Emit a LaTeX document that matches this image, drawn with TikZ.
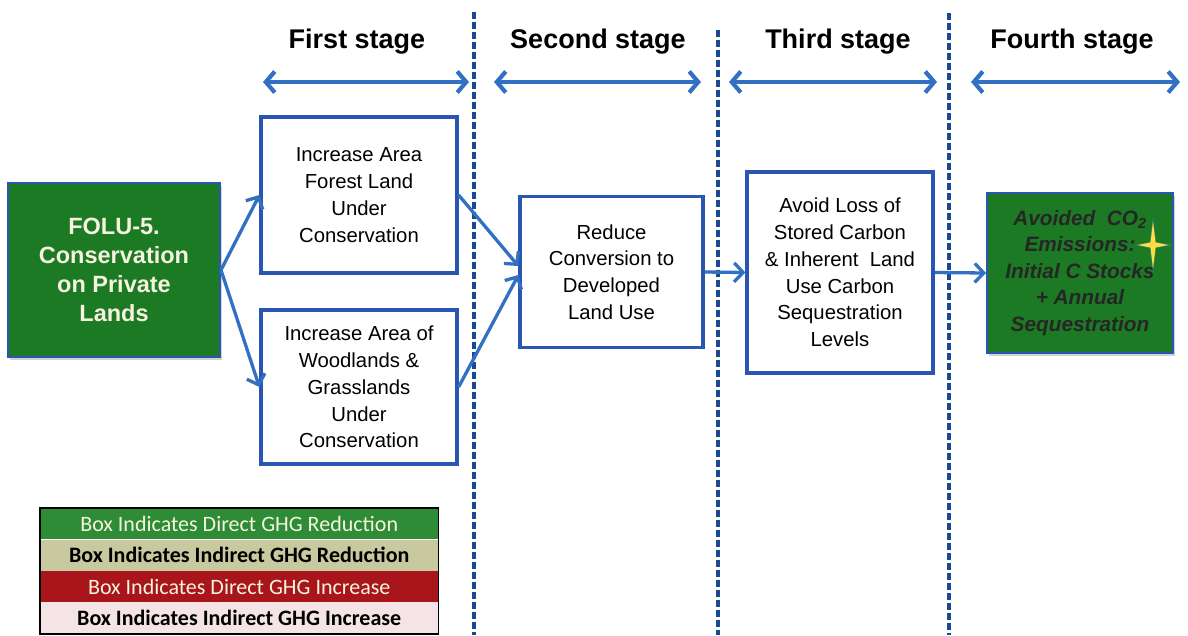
\documentclass[tikz,border=0pt]{standalone}
\usepackage{fontspec}
\setmainfont{Liberation Sans}
\newfontfamily\legendfont{Carlito}
\usetikzlibrary{arrows.meta,calc,shadows}

\definecolor{boxblue}{HTML}{2856B0}
\definecolor{arrowblue}{HTML}{3170C2}
\definecolor{dashblue}{HTML}{1B4896}
\definecolor{deepgreen}{HTML}{1B7A23}
\definecolor{leggreen}{HTML}{2E8B36}
\definecolor{legbeige}{HTML}{C8C99E}
\definecolor{legred}{HTML}{A8161B}
\definecolor{legpink}{HTML}{F4E4E6}
\definecolor{cream}{HTML}{F6F4DE}
\definecolor{staryellow}{HTML}{FFE03A}

\tikzset{
  plainbox/.style={draw=boxblue, line width=3.2pt, fill=white, align=center,
    inner sep=0pt, font=\fontsize{20.3}{26.8}\selectfont},
  greenbox/.style={draw=boxblue, line width=2pt, fill=deepgreen, align=center,
    inner sep=0pt, drop shadow={shadow xshift=2pt, shadow yshift=-3pt, opacity=0.35}},
  flow/.style={arrowblue, line width=3.3pt,
    -{Straight Barb[length=9pt,width=19pt]}},
  stagearrow/.style={arrowblue, line width=4.2pt,
    {Straight Barb[length=9pt,width=21pt]}-{Straight Barb[length=9pt,width=21pt]}},
  divider/.style={dashblue, line width=3.4pt, dash pattern=on 7pt off 3pt},
  stagetitle/.style={anchor=base, font=\bfseries\fontsize{27}{30}\selectfont},
  legendrow/.style={minimum width=398pt, minimum height=31pt, inner sep=0pt,
    font=\legendfont\fontsize{22}{24}\selectfont}
}

\begin{document}
\begin{tikzpicture}[x=1pt,y=-1pt]
\useasboundingbox (0,0) rectangle (1188,635);

% stage dividers
\coordinate (d1t) at (474,12);  \coordinate (d1b) at (474,635);
\coordinate (d2t) at (718,30);  \coordinate (d2b) at (718,635);
\coordinate (d3t) at (949,13);  \coordinate (d3b) at (949,635);
\draw[divider] (d1t) -- (d1b);
\draw[divider] (d2t) -- (d2b);
\draw[divider] (d3t) -- (d3b);

% stage titles
\node[stagetitle] (t1) at (357,48) {First stage};
\node[stagetitle] (t2) at (598,48) {Second stage};
\node[stagetitle] (t3) at (838,48) {Third stage};
\node[stagetitle] (t4) at (1072,48) {Fourth stage};

% stage extents
\coordinate (s1l) at (263,82);  \coordinate (s1r) at (469,82);
\coordinate (s2l) at (494,82);  \coordinate (s2r) at (701,82);
\coordinate (s3l) at (729,82);  \coordinate (s3r) at (937,82);
\coordinate (s4l) at (971,82);  \coordinate (s4r) at (1180,82);
\draw[stagearrow] (s1l) -- (s1r);
\draw[stagearrow] (s2l) -- (s2r);
\draw[stagearrow] (s3l) -- (s3r);
\draw[stagearrow] (s4l) -- (s4r);

% boxes
\node[greenbox, minimum width=212pt, minimum height=174pt,
  font=\bfseries\fontsize{23.5}{29}\selectfont, text=cream] (G) at (114,270)
  {FOLU-5.\\Conservation\\on Private\\Lands};
\node[plainbox, minimum width=196pt, minimum height=156pt] (A) at (359,195)
  {Increase Area\\Forest Land\\Under\\Conservation};
\node[plainbox, minimum width=196pt, minimum height=154pt] (B) at (359,387)
  {Increase Area of\\Woodlands \&\\Grasslands\\Under\\Conservation};
\node[plainbox, minimum width=183pt, minimum height=151pt] (C) at (611.5,272)
  {Reduce\\Conversion to\\Developed\\Land Use};
\node[plainbox, minimum width=186pt, minimum height=201pt] (D) at (840,272.5)
  {Avoid Loss of\\Stored Carbon\\\& Inherent\ \ Land\\Use Carbon\\Sequestration\\Levels};
\node[greenbox, minimum width=186pt, minimum height=160pt,
  font=\bfseries\itshape\fontsize{20.8}{26.5}\selectfont, text=black!85] (E) at (1080,273)
  {Avoided\ \ CO\textsubscript{2}\\Emissions:\\Initial C Stocks\\+ Annual\\Sequestration};

% sparkle on the outcome box
\fill[boxblue!70, opacity=0.6]
  (1153,217) -- (1156,242) -- (1172,245) -- (1156,248) -- (1153,273)
  -- (1150,248) -- (1135,245) -- (1150,242) -- cycle;
\fill[staryellow]
  (1153,222) -- (1155.5,242.5) -- (1168,245) -- (1155.5,247.5) -- (1153,268)
  -- (1150.5,247.5) -- (1138,245) -- (1150.5,242.5) -- cycle;

% connectors
\draw[flow] (G.east) -- (A.west);
\draw[flow] (G.east) -- (B.west);
\draw[flow] (A.east) -- ([yshift=6pt]C.west);
\draw[flow] (B.east) -- ([yshift=-3pt]C.west);
\draw[flow] (C.east) -- (D.west);
\draw[flow] (D.east) -- (E.west);

% legend
\node[legendrow, fill=leggreen, text=cream, anchor=north west] (L1) at (40,508)
  {Box Indicates Direct GHG Reduction};
\node[legendrow, fill=legbeige, text=black, font=\legendfont\bfseries\fontsize{22}{24}\selectfont,
  anchor=north] (L2) at (L1.south) {Box Indicates Indirect GHG Reduction};
\node[legendrow, fill=legred, text=cream, anchor=north] (L3) at (L2.south)
  {Box Indicates Direct GHG Increase};
\node[legendrow, fill=legpink, text=black, font=\legendfont\bfseries\fontsize{22}{24}\selectfont,
  anchor=north] (L4) at (L3.south) {Box Indicates Indirect GHG Increase};
\draw[black, line width=1.8pt] (L1.north west) rectangle (L4.south east);
\end{tikzpicture}
\end{document}
